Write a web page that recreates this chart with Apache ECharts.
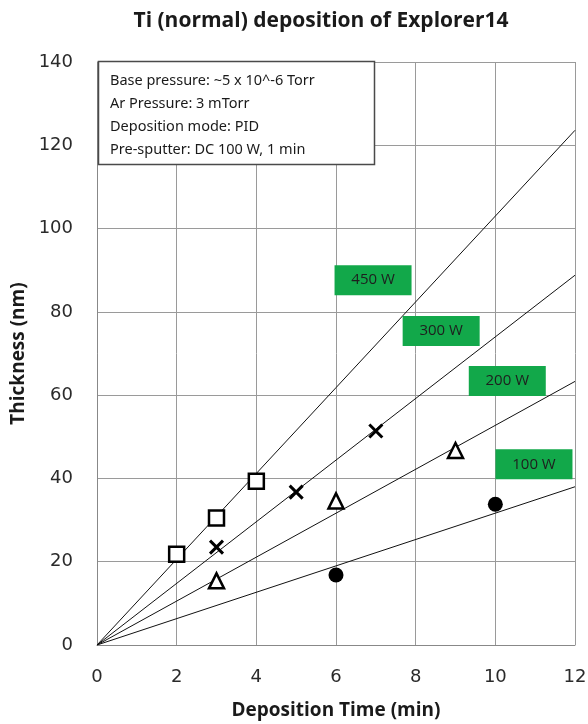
<!DOCTYPE html>
<html>
<head>
<meta charset="utf-8">
<script src="https://cdn.jsdelivr.net/npm/echarts@6/dist/echarts.min.js"></script>
<style>html,body{margin:0;padding:0;background:#fff}#c{width:588px;height:724px}</style>
</head>
<body>
<div id="c"></div>
<script>
// Measured data (Deposition time in min, thickness in nm)
var w450 = [[2, 21.8], [3, 30.5], [4, 39.3]];
var w300 = [[3, 23.5], [5, 36.7], [7, 51.4]];
var w200 = [[3, 15.4], [6, 34.6], [9, 46.7]];
var w100 = [[6, 16.8], [10, 33.8]];
// Fit lines through origin (endpoints read at x = 12)
var fit450 = [[0, 0], [12, 123.6]];
var fit300 = [[0, 0], [12, 88.8]];
var fit200 = [[0, 0], [12, 63.3]];
var fit100 = [[0, 0], [12, 38.0]];
// Power labels
var powerLabels = [
  {name: '450 W', pos: [6.93, 87.6]},
  {name: '300 W', pos: [8.64, 75.4]},
  {name: '200 W', pos: [10.3, 63.4]},
  {name: '100 W', pos: [10.97, 43.4]}
];
var infoLines = [
  'Base pressure: ~5 x 10^-6 Torr',
  'Ar Pressure: 3 mTorr',
  'Deposition mode: PID',
  'Pre-sputter: DC 100 W, 1 min'
];
var xTicks = [0, 2, 4, 6, 8, 10, 12];
var yTicks = [0, 20, 40, 60, 80, 100, 120, 140];

var chart = echarts.init(document.getElementById('c'));
var lineStyle = {color: '#111', width: 1};
function fitSeries(d) {
  return {type: 'line', data: d, symbol: 'none', lineStyle: lineStyle, silent: true, z: 2, animation: false};
}
var sansBold = '"Open Sans", "Noto Sans", sans-serif';
var option = {
  animation: false,
  title: {
    text: 'Ti (normal) deposition of Explorer14',
    left: 316, top: 6, textAlign: 'center',
    textStyle: {fontFamily: sansBold, fontWeight: 'bold', fontSize: 21, color: '#1a1a1a'}
  },
  grid: {left: 97, right: 13, top: 62, bottom: 79, outerBoundsMode: 'none', containLabel: false},
  xAxis: {
    type: 'value', min: 0, max: 12, interval: 2,
    name: 'Deposition Time (min)', nameLocation: 'middle', nameGap: 56,
    nameTextStyle: {fontFamily: sansBold, fontWeight: 'bold', fontSize: 19, color: '#1a1a1a'},
    axisLine: {lineStyle: {color: '#888', width: 1}},
    axisTick: {show: false},
    axisLabel: {fontFamily: 'DejaVu Sans', fontSize: 18, color: '#2a2a2a', margin: 23,
      formatter: function (v) { return xTicks.indexOf(v) >= 0 ? String(v) : ''; }},
    splitLine: {show: true, lineStyle: {color: '#9a9a9a', width: 1}}
  },
  yAxis: {
    type: 'value', min: 0, max: 140, interval: 20,
    name: 'Thickness (nm)', nameLocation: 'middle', nameGap: 64,
    nameTextStyle: {fontFamily: sansBold, fontWeight: 'bold', fontSize: 19, color: '#1a1a1a'},
    axisLine: {show: true, lineStyle: {color: '#888', width: 1}},
    axisTick: {show: false},
    axisLabel: {fontFamily: 'DejaVu Sans', fontSize: 18, color: '#2a2a2a', margin: 24,
      formatter: function (v) { return yTicks.indexOf(v) >= 0 ? String(v) : ''; }},
    splitLine: {show: true, lineStyle: {color: '#9a9a9a', width: 1}}
  },
  series: [
    fitSeries(fit450), fitSeries(fit300), fitSeries(fit200), fitSeries(fit100),
    {type: 'scatter', data: w450, symbol: 'rect', symbolSize: 15, z: 5,
      itemStyle: {color: '#fff', borderColor: '#000', borderWidth: 2.5, opacity: 1}},
    {type: 'scatter', data: w300, symbol: 'path://M0,0L10,10M10,0L0,10', symbolSize: 13, z: 5,
      itemStyle: {color: 'none', borderColor: '#000', borderWidth: 3, opacity: 1}},
    {type: 'scatter', data: w200, symbol: 'triangle', symbolSize: 15, z: 5,
      itemStyle: {color: '#fff', borderColor: '#000', borderWidth: 2.5, opacity: 1}},
    {type: 'scatter', data: w100, symbol: 'circle', symbolSize: 15, z: 5,
      itemStyle: {color: '#000', opacity: 1}},
    {type: 'scatter', symbol: 'rect', symbolSize: [77, 30], z: 6, silent: true,
      itemStyle: {color: '#12a84a', opacity: 1},
      data: powerLabels.map(function (p) { return {name: p.name, value: p.pos}; }),
      label: {show: true, position: 'inside', formatter: '{b}',
        fontFamily: '"Open Sans", sans-serif', fontSize: 15, color: '#1e1e1e'}}
  ],
  graphic: [
    {type: 'rect', shape: {x: 98.5, y: 61.5, width: 276, height: 103},
      style: {fill: '#fff', stroke: '#4a4a4a', lineWidth: 1.5}, z: 10},
    {type: 'text', left: 110, top: 69, z: 11,
      style: {text: infoLines.join('\n'), lineHeight: 23, fontFamily: '"Noto Sans", sans-serif', fontSize: 14.5, fill: '#1a1a1a'}}
  ]
};
chart.setOption(option);
</script>
</body>
</html>
